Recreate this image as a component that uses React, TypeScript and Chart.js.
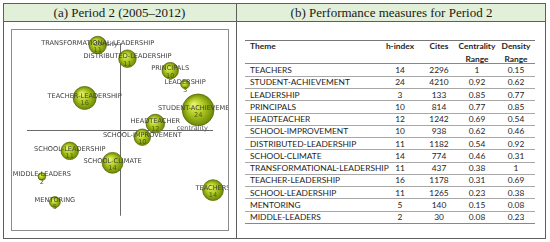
import React, { useEffect, useRef } from "react";
import { Chart, registerables } from "chart.js";

Chart.register(...registerables);

// ---- data ----
const themes = [
  "TEACHERS",
  "STUDENT-ACHIEVEMENT",
  "LEADERSHIP",
  "PRINCIPALS",
  "HEADTEACHER",
  "SCHOOL-IMPROVEMENT",
  "DISTRIBUTED-LEADERSHIP",
  "SCHOOL-CLIMATE",
  "TRANSFORMATIONAL-LEADERSHIP",
  "TEACHER-LEADERSHIP",
  "SCHOOL-LEADERSHIP",
  "MENTORING",
  "MIDDLE-LEADERS",
];
const hIndex = [14, 24, 3, 10, 12, 10, 11, 14, 11, 16, 11, 5, 2];
const cites = [2296, 4210, 133, 814, 1242, 938, 1182, 774, 437, 1178, 1265, 140, 30];
const centralityRange = [1, 0.92, 0.85, 0.77, 0.69, 0.62, 0.54, 0.46, 0.38, 0.31, 0.23, 0.15, 0.08];
const densityRange = [0.15, 0.62, 0.77, 0.85, 0.54, 0.46, 0.92, 0.31, 1, 0.69, 0.38, 0.08, 0.23];

const leftTitle = "(a) Period 2 (2005\u20132012)";
const rightTitle = "(b) Performance measures for Period 2";
const axisXLabel = "centrality";
const axisYLabel = "density";
const midValue = 0.5;

const LABEL_FONT = '6.6px "DejaVu Sans", Verdana, sans-serif';

const guidePlugin = {
  id: "guides",
  beforeDatasetsDraw(chart: any) {
    const { ctx, scales } = chart;
    const xs = scales.x;
    const ys = scales.y;
    ctx.save();
    ctx.strokeStyle = "#6a6a6a";
    ctx.lineWidth = 1;
    const yMid = Math.round(ys.getPixelForValue(midValue)) + 0.5;
    const xMid = Math.round(xs.getPixelForValue(midValue)) + 0.5;
    ctx.beginPath();
    ctx.moveTo(xs.getPixelForValue(0), yMid);
    ctx.lineTo(xs.getPixelForValue(1), yMid);
    ctx.moveTo(xMid, ys.getPixelForValue(0));
    ctx.lineTo(xMid, ys.getPixelForValue(1.01));
    ctx.stroke();
    ctx.restore();
  },
  afterDatasetsDraw(chart: any) {
    const { ctx, scales } = chart;
    const meta = chart.getDatasetMeta(0);
    ctx.save();
    ctx.font = LABEL_FONT;
    ctx.textBaseline = "middle";
    // axis captions
    ctx.fillStyle = "#555";
    ctx.textAlign = "right";
    ctx.fillText(axisXLabel, scales.x.getPixelForValue(1) - 5, scales.y.getPixelForValue(midValue) - 2);
    ctx.fillText(axisYLabel, scales.x.getPixelForValue(midValue) - 2, scales.y.getPixelForValue(1) - 1);
    ctx.textAlign = "center";
    meta.data.forEach((el: any, i: number) => {
      ctx.fillStyle = "#3c3c3c";
      ctx.fillText(themes[i], el.x, el.y - 2);
      ctx.fillStyle = "#4d5a10";
      ctx.fillText(String(hIndex[i]), el.x, el.y + 5.5);
    });
    ctx.restore();
  },
};

function BubbleChart() {
  const ref = useRef<HTMLCanvasElement | null>(null);
  useEffect(() => {
    if (!ref.current) return;
    const chart = new Chart(ref.current, {
      type: "bubble",
      data: {
        datasets: [
          {
            data: themes.map((_, i) => ({
              x: centralityRange[i],
              y: densityRange[i],
              r: 2.7 + 0.55 * hIndex[i],
            })),
            backgroundColor: (c: any) => {
              const chart = c.chart;
              const raw = c.raw;
              if (!raw || !chart.chartArea) return "#a6c21a";
              const x = chart.scales.x.getPixelForValue(raw.x);
              const y = chart.scales.y.getPixelForValue(raw.y);
              const r = raw.r;
              const g = chart.ctx.createRadialGradient(x - r * 0.3, y - r * 0.35, r * 0.05, x, y, r);
              g.addColorStop(0, "#e8f276");
              g.addColorStop(0.45, "#b4ce24");
              g.addColorStop(1, "#6c8808");
              return g;
            },
            borderColor: "#5a6e04",
            borderWidth: 0.8,
          } as any,
        ],
      },
      options: {
        animation: false,
        responsive: false,
        maintainAspectRatio: false,
        events: [],
        layout: { padding: 0, autoPadding: false },
        plugins: { legend: { display: false }, tooltip: { enabled: false } },
        scales: {
          x: { type: "linear", min: -0.0806, max: 1.0806, display: false },
          y: { type: "linear", min: -0.0836, max: 1.088, display: false },
        },
      } as any,
      plugins: [guidePlugin],
    });
    return () => chart.destroy();
  }, []);
  return (
    <canvas
      ref={ref}
      width={216}
      height={200}
      style={{ position: "absolute", left: 12, top: 30, width: 216, height: 200 }}
    />
  );
}

const LINE = "#5e5e5e";
const tableFont = 'Lato, "Open Sans", sans-serif';
const colCenters = [155, 194, 232, 271]; // relative to table left
const rowTop = 24;
const rowH = 12.25;

function PerfTable() {
  const cell = (text: string, center: number, top: number, bold = false) => (
    <div
      style={{
        position: "absolute",
        left: center - 30,
        width: 60,
        top,
        height: rowH,
        lineHeight: rowH + "px",
        textAlign: "center",
        fontWeight: bold ? 700 : 400,
      }}
    >
      {text}
    </div>
  );
  return (
    <div
      style={{
        position: "absolute",
        left: 245,
        top: 40,
        width: 290,
        height: rowTop + rowH * themes.length,
        fontFamily: tableFont,
        fontSize: 8.4,
        color: "#1e1e1e",
        whiteSpace: "nowrap",
      }}
    >
      <div style={{ position: "absolute", left: 0, top: 0, width: 290, height: 1, background: "#777" }} />
      <div
        style={{ position: "absolute", left: 5, top: 0, height: rowH, lineHeight: rowH + "px", fontWeight: 700 }}
      >
        Theme
      </div>
      {cell("h-index", colCenters[0], 0, true)}
      {cell("Cites", colCenters[1], 0, true)}
      {cell("Centrality", colCenters[2], 0, true)}
      {cell("Range", colCenters[2], 12.5, true)}
      {cell("Density", colCenters[3], 0, true)}
      {cell("Range", colCenters[3], 12.5, true)}
      <div style={{ position: "absolute", left: 0, top: rowTop - 1, width: 290, height: 1, background: "#888" }} />
      {themes.map((t, i) => {
        const top = rowTop + i * rowH;
        return (
          <React.Fragment key={t}>
            <div
              style={{ position: "absolute", left: 5, top, height: rowH, lineHeight: rowH + "px" }}
            >
              {t}
            </div>
            {cell(String(hIndex[i]), colCenters[0], top)}
            {cell(String(cites[i]), colCenters[1], top)}
            {cell(String(centralityRange[i]), colCenters[2], top)}
            {cell(String(densityRange[i]), colCenters[3], top)}
            <div
              style={{
                position: "absolute",
                left: 0,
                top: top + rowH - 0.5,
                width: 290,
                height: 1,
                background: i === themes.length - 1 ? "#888" : "#a8a8a8",
              }}
            />
          </React.Fragment>
        );
      })}
    </div>
  );
}

export default function App() {
  const titleStyle: React.CSSProperties = {
    position: "absolute",
    top: 4,
    height: 17,
    lineHeight: "18px",
    textAlign: "center",
    fontFamily: '"Liberation Serif", "DejaVu Serif", serif',
    fontSize: 13,
    color: "#1a1a1a",
    whiteSpace: "nowrap",
  };
  return (
    <div style={{ position: "absolute", left: 0, top: 0, width: 550, height: 242, background: "#fff", overflow: "hidden" }}>
      {/* header band */}
      <div style={{ position: "absolute", left: 3, top: 3, width: 543, height: 18, background: "#e2efd9" }} />
      {/* outer frame */}
      <div
        style={{
          position: "absolute",
          left: 3,
          top: 3,
          width: 543,
          height: 236,
          boxSizing: "border-box",
          border: `1px solid ${LINE}`,
        }}
      />
      <div style={{ position: "absolute", left: 3, top: 21, width: 543, height: 1, background: LINE }} />
      <div style={{ position: "absolute", left: 236, top: 3, width: 1, height: 236, background: LINE }} />
      <div style={{ ...titleStyle, left: 3, width: 233 }}>{leftTitle}</div>
      <div style={{ ...titleStyle, left: 237, width: 309 }}>{rightTitle}</div>
      {/* figure box */}
      <div
        style={{
          position: "absolute",
          left: 11,
          top: 29,
          width: 218,
          height: 202,
          boxSizing: "border-box",
          border: "1px solid #8c8c8c",
          background: "#fff",
        }}
      />
      <BubbleChart />
      <PerfTable />
    </div>
  );
}
